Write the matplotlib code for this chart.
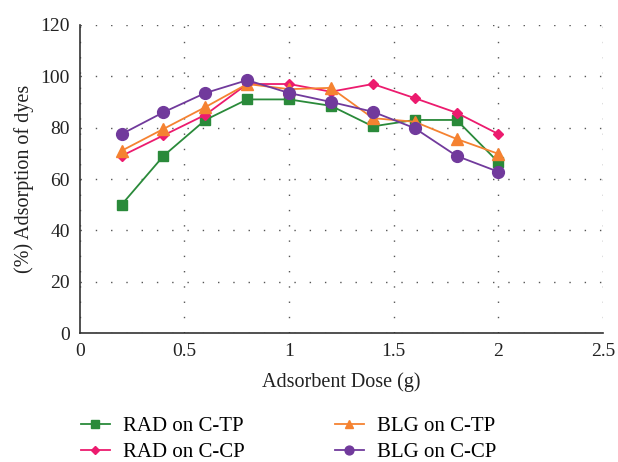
import matplotlib
matplotlib.use('Agg')
import matplotlib.pyplot as plt

plt.rcParams['font.family'] = ['Liberation Serif', 'DejaVu Serif']

# 数据
dose = [0.2, 0.4, 0.6, 0.8, 1.0, 1.2, 1.4, 1.6, 1.8, 2.0]
rad_ctp = [50, 69, 83, 91, 91, 88.5, 80.5, 83, 83, 66.5]
rad_ccp = [69, 77, 85, 97, 97, 94, 97, 91.5, 85.8, 77.5]
blg_ctp = [71, 79.5, 88, 97, 95, 95.5, 83.7, 82.3, 75.6, 69.8]
blg_ccp = [77.5, 86, 93.5, 98.5, 93.5, 90, 86.2, 79.8, 69, 62.8]

series = [
    ('RAD on C-TP', rad_ctp, '#2a8a3a', 's', 7.5),
    ('RAD on C-CP', rad_ccp, '#ec1b6e', 'D', 5.5),
    ('BLG on C-TP', blg_ctp, '#f58231', '^', 8.5),
    ('BLG on C-CP', blg_ccp, '#713a9c', 'o', 8.5),
]

fig = plt.figure(figsize=(6.18, 4.62), dpi=100)
ax = fig.add_axes([0.129, 0.279, 0.847, 0.667])

for label, vals, col, mk, ms in series:
    ax.plot(dose, vals, color=col, marker=mk, markersize=ms, linewidth=1.3, label=label)

ax.set_xlim(0, 2.5)
ax.set_ylim(0, 120)
ax.set_xticks([0, 0.5, 1, 1.5, 2, 2.5])
ax.set_xticklabels(['0', '0.5', '1', '1.5', '2', '2.5'])
ax.set_yticks(range(0, 121, 20))
ax.tick_params(length=0, labelsize=14, colors='#222222', pad=7)
ax.grid(True, linestyle=(0, (1, 10)), color='#555555', linewidth=1.0)
ax.set_axisbelow(True)
for s in ['top', 'right']:
    ax.spines[s].set_visible(False)
for s in ['left', 'bottom']:
    ax.spines[s].set_linewidth(1.2)
    ax.spines[s].set_color('#333333')

ax.set_xlabel('Adsorbent Dose (g)', fontsize=14.5, color='#222222', labelpad=9)
ax.set_ylabel('(%) Adsorption of dyes', fontsize=14.5, color='#222222', labelpad=5)

handles, labels = ax.get_legend_handles_labels()
fig.legend(handles, labels,
           loc='upper left', bbox_to_anchor=(0.107, 0.13), ncol=2, frameon=False,
           fontsize=15, markerscale=0.75, handlelength=1.4, handletextpad=0.65,
           columnspacing=4.3, labelspacing=0.32, borderpad=0.2)

plt.savefig('out.png', dpi=100)
